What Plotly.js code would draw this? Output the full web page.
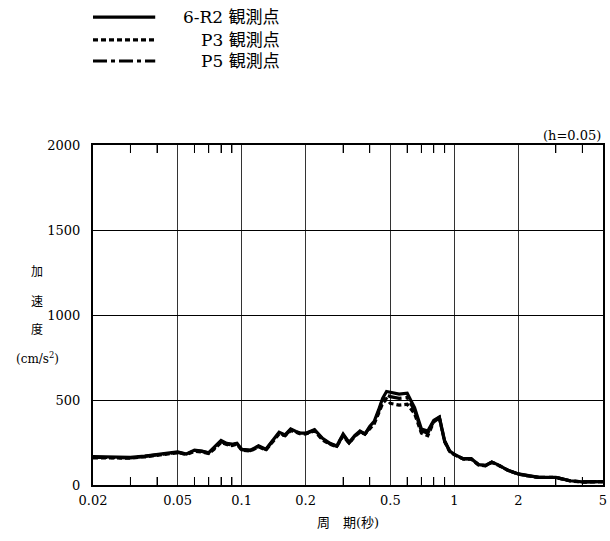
<!DOCTYPE html>
<html>
<head>
<meta charset="utf-8">
<script src="https://cdn.plot.ly/plotly-3.0.1.min.js"></script>
<style>html,body{margin:0;padding:0;background:#fff;}#chart{width:610px;height:541px;}</style>
</head>
<body>
<div id="chart"></div>
<script>
// Period (s)
const periods = [0.02, 0.025, 0.03, 0.035, 0.04, 0.045, 0.05, 0.055, 0.06, 0.065, 0.07, 0.075, 0.08, 0.085, 0.09, 0.095, 0.1, 0.11, 0.12, 0.13, 0.14, 0.15, 0.16, 0.17, 0.18, 0.19, 0.2, 0.22, 0.24, 0.26, 0.28, 0.3, 0.32, 0.34, 0.36, 0.38, 0.4, 0.42, 0.44, 0.46, 0.48, 0.5, 0.55, 0.6, 0.65, 0.7, 0.75, 0.8, 0.85, 0.9, 0.95, 1.0, 1.1, 1.2, 1.3, 1.4, 1.5, 1.6, 1.8, 2.0, 2.2, 2.5, 3.0, 3.5, 4.0, 4.5, 5.0];
// Acceleration (cm/s^2)
const accR2 = [167, 165, 162, 170, 182, 188, 195, 182, 205, 200, 190, 225, 262, 245, 240, 246, 210, 205, 230, 210, 265, 310, 295, 330, 315, 305, 305, 325, 275, 245, 230, 300, 250, 290, 318, 300, 345, 375, 440, 510, 550, 545, 535, 540, 455, 330, 318, 380, 400, 260, 200, 180, 155, 155, 120, 115, 135, 120, 85, 65, 55, 45, 45, 25, 18, 20, 20];
const accP3 = [160, 160, 158, 165, 175, 183, 190, 180, 198, 195, 185, 215, 250, 238, 232, 240, 205, 200, 225, 205, 255, 300, 290, 320, 310, 300, 300, 318, 265, 240, 225, 290, 245, 285, 310, 300, 330, 360, 420, 480, 505, 480, 470, 475, 420, 305, 290, 370, 395, 255, 198, 178, 153, 152, 118, 113, 133, 118, 84, 64, 54, 44, 44, 24, 17, 19, 19];
const accP5 = [163, 162, 160, 168, 178, 186, 192, 181, 202, 198, 188, 220, 256, 242, 236, 243, 208, 203, 228, 208, 260, 305, 292, 325, 312, 302, 302, 322, 270, 242, 228, 295, 248, 288, 314, 300, 338, 368, 430, 500, 530, 520, 510, 515, 440, 318, 305, 375, 398, 258, 199, 179, 154, 154, 119, 114, 134, 119, 85, 65, 55, 45, 45, 25, 18, 20, 20];

const majorTicks = [0.02, 0.05, 0.1, 0.2, 0.5, 1, 2, 5];
const majorLabels = ['0.02', '0.05', '0.1', '0.2', '0.5', '1', '2', '5'];
const minorTicks = [0.03, 0.04, 0.06, 0.07, 0.08, 0.09, 0.3, 0.4, 0.6, 0.7, 0.8, 0.9, 3, 4];
const yTicks = [0, 500, 1000, 1500, 2000];
const seriesNames = ['6-R2 観測点', 'P3 観測点', 'P5 観測点'];

const FONT = 'DejaVu Serif';
const CJKFONT = 'Noto Sans CJK JP';
const lineW = 3.2;
const xMin = 0.02, xMax = 5;

const traces = [
  {x: periods, y: accP3, xaxis: 'x2', yaxis: 'y', mode: 'lines', name: seriesNames[1], line: {color: '#000', width: lineW, dash: '5px,3px'}},
  {x: periods, y: accP5, mode: 'lines', name: seriesNames[2], line: {color: '#000', width: lineW, dash: '14px,4px,4px,4px'}},
  {x: periods, y: accR2, mode: 'lines', name: seriesNames[0], line: {color: '#000', width: lineW}}
];

// manual legend (keys as layout shapes, labels as annotations)
const legendY = [1.376, 1.309, 1.247];
const legendDash = ['solid', '5px,3px', '14px,4px,4px,4px'];
const shapes = legendY.map((yy, i) => ({
  type: 'line', xref: 'paper', yref: 'paper', x0: 0, x1: 0.122, y0: yy, y1: yy,
  line: {color: '#000', width: 3.2, dash: legendDash[i]}
}));
// minor ticks also as paper-anchored marks (bottom and top, inward)
const toPaper = v => (Math.log10(v) - Math.log10(xMin)) / (Math.log10(xMax) - Math.log10(xMin));
const tickLenPaper = 8 / 340;
minorTicks.forEach(v => {
  const px = toPaper(v);
  shapes.push({type: 'line', layer: 'above', xref: 'paper', yref: 'paper', x0: px, x1: px, y0: 0, y1: tickLenPaper, line: {color: '#000', width: 1}});
  shapes.push({type: 'line', layer: 'above', xref: 'paper', yref: 'paper', x0: px, x1: px, y0: 1 - tickLenPaper, y1: 1, line: {color: '#000', width: 1}});
});

const annotations = legendY.map((yy, i) => ({
  xref: 'paper', yref: 'paper', x: 0.371, y: yy, xanchor: 'right', yanchor: 'middle',
  text: seriesNames[i], showarrow: false, font: {family: FONT + ', ' + CJKFONT, size: 17, color: '#000'}
}));
annotations.push({xref: 'paper', yref: 'paper', x: 1, y: 1.0, xanchor: 'right', yanchor: 'bottom',
  text: '(h=0.05)', showarrow: false, font: {family: FONT, size: 13, color: '#000'}});
const yTitleParts = ['加', '速', '度', '(cm/s<sup>2</sup>)'];
const yTitleY = [272, 302, 330, 358];
yTitleParts.forEach((t, i) => annotations.push({
  xref: 'paper', yref: 'paper', x: (37 - 93) / 510, y: (485 - yTitleY[i]) / 340, xanchor: 'center', yanchor: 'middle',
  text: t, showarrow: false, font: {family: FONT + ', ' + CJKFONT, size: 12, color: '#000'}
}));
annotations.push({xref: 'paper', yref: 'paper', x: 0.5, y: (485 - 522) / 340, xanchor: 'center', yanchor: 'middle',
  text: '周　期(秒)', showarrow: false, font: {family: FONT + ', ' + CJKFONT, size: 13, color: '#000'}});

const layout = {
  width: 610, height: 541,
  margin: {l: 93, r: 7, t: 145, b: 56},
  paper_bgcolor: '#fff', plot_bgcolor: '#fff',
  showlegend: false,
  font: {family: FONT, size: 13, color: '#000'},
  xaxis: {
    type: 'log', range: [Math.log10(xMin), Math.log10(xMax)],
    tickmode: 'array', tickvals: majorTicks, ticktext: majorLabels,
    ticks: '', showgrid: true, gridcolor: '#333', gridwidth: 1,
    showline: true, linecolor: '#000', linewidth: 2, mirror: true,
    zeroline: false, tickfont: {family: FONT, size: 13}, ticklabelstandoff: 2
  },
  xaxis2: {
    type: 'log', range: [Math.log10(xMin), Math.log10(xMax)], overlaying: 'x', anchor: 'y', side: 'bottom',
    tickmode: 'array', tickvals: minorTicks, showticklabels: false,
    ticks: 'inside', ticklen: 8, tickwidth: 1, tickcolor: '#000', showgrid: false,
    showline: false, mirror: 'allticks', zeroline: false
  },
  yaxis: {
    range: [0, 2000], tickmode: 'array', tickvals: yTicks,
    ticks: '', showgrid: true, gridcolor: '#000', gridwidth: 1,
    showline: true, linecolor: '#000', linewidth: 2, mirror: true,
    zeroline: false, tickfont: {family: FONT, size: 13}, ticklabelstandoff: 8
  },
  shapes: shapes,
  annotations: annotations
};

Plotly.newPlot('chart', traces, layout, {displayModeBar: false, staticPlot: true});
</script>
</body>
</html>
